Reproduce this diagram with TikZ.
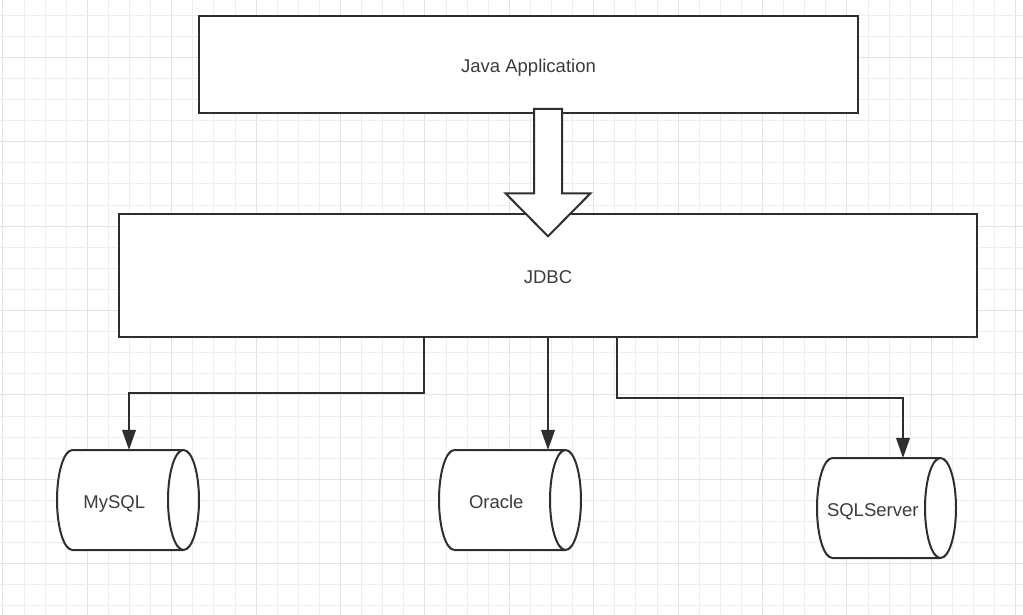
\documentclass[tikz,border=0pt]{standalone}
\usepackage{fontspec}
\setmainfont{Liberation Sans}
\usetikzlibrary{calc}
\usetikzlibrary{arrows.meta}
\usetikzlibrary{shapes.geometric}
\definecolor{ink}{HTML}{2E2E2E}
\definecolor{labelgray}{HTML}{3C3C3C}
\definecolor{gridminor}{HTML}{EEEEEE}
\definecolor{gridmajor}{HTML}{E2E2E2}
\tikzset{
	every path/.style={line width=2pt},
	align=center,
	layer/.style={
		draw=ink,
		fill=white,
		rectangle,
		inner sep=0pt,
		outer sep=0pt,
		text height=15.2pt,
		text depth=0pt,
		text=labelgray,
		font=\fontsize{18.5}{20}\selectfont,
	},
	store/.style={
		draw=ink,
		fill=white,
		cylinder,
		aspect=1.26,
		text height=20.6pt,
		text depth=4pt,
		minimum width=100pt,
		minimum height=142pt,
		inner sep=0pt,
		outer sep=0pt,
		anchor=shape center,
		execute at begin node={\hspace*{-11pt}},
		text=labelgray,
		font=\fontsize{18.5}{20}\selectfont,
	},
	link/.style={
		draw=ink,
		-{Triangle[length=20pt,width=13.5pt]}
	},
	bigarrow/.style={
		draw=ink,
		fill=white,
		line join=miter,
	},
	gridline/.style={draw=gridminor, line width=1pt},
	gridbold/.style={draw=gridmajor, line width=1pt},
}

\begin{document}
\begin{tikzpicture}[x=1pt,y=-1pt]
		\useasboundingbox (0,0) rectangle (1023,615);

		% background grid
		\foreach \gx in {0,...,48} {
			\pgfmathtruncatemacro{\gm}{mod(\gx,4)}
			\ifnum\gm=0
				\draw[gridbold] (2.9+21.1*\gx,0) -- ++(0,615);
			\else
				\draw[gridline] (2.9+21.1*\gx,0) -- ++(0,615);
			\fi
		}
		\foreach \gy in {0,...,28} {
			\pgfmathtruncatemacro{\gm}{mod(\gy+2,4)}
			\ifnum\gm=0
				\draw[gridbold] (0,15.1+21.1*\gy) -- ++(1023,0);
			\else
				\draw[gridline] (0,15.1+21.1*\gy) -- ++(1023,0);
			\fi
		}

		\node[layer, minimum width=659pt, minimum height=97.6pt] (java) at (528.5,64.5) {Java Application};
		\node[layer, minimum width=858pt, minimum height=122.4pt] (jdbc) at (548,275.5) {JDBC};

		\node[store] 				(mysql) at (128,500) {MySQL};
		\node[store] 				(oracle) at (510,500) {Oracle};
		\node[store, minimum height=139pt] (sqlsrv) at (886.5,508) {SQLServer};

		% hollow arrow from the application down into JDBC
		\coordinate (tail) at ([xshift=19.5pt,yshift=4.3pt]java.south);
		\coordinate (tip) at ([yshift=-22pt]jdbc.north);
		\draw[bigarrow] ($(tail)+(-14,0)$) -- ($(tip)+(-14,-43)$) -- ($(tip)+(-42.5,-43)$) -- (tip)
			-- ($(tip)+(42.5,-43)$) -- ($(tip)+(14,-43)$) -- ($(tail)+(14,0)$) -- cycle;

		\draw[link] 				([xshift=-124pt]jdbc.south) -- ++(0,56) -| ($(mysql.shape center |- mysql.north)+(1,0)$);
		\draw[link] 				(jdbc.south) -- (jdbc.south |- oracle.north);
		\draw[link] 				([xshift=69pt]jdbc.south) -- ++(0,61) -| ($(sqlsrv.shape center |- sqlsrv.north)+(16.5,0)$);

	\end{tikzpicture}
\end{document}
